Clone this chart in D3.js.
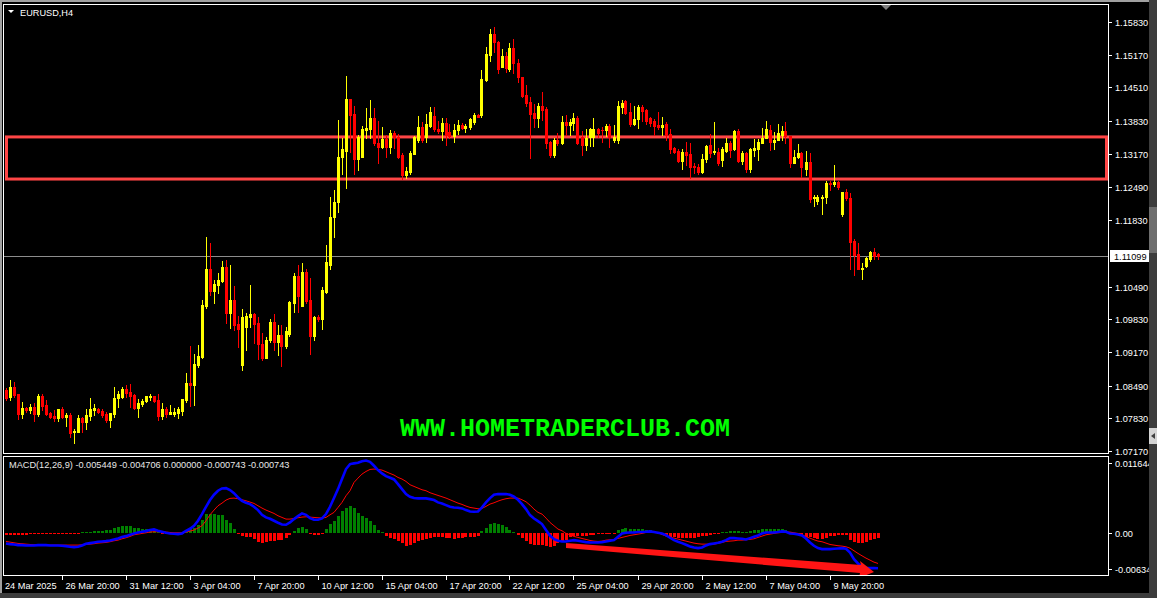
<!DOCTYPE html>
<html><head><meta charset="utf-8">
<script src="https://cdn.jsdelivr.net/npm/d3@7"></script>
<style>body{margin:0;background:#000;overflow:hidden}svg{display:block}</style>
</head><body><svg id="c" width="1157" height="598"></svg>
<script>
const openP=[1.0840,1.0825,1.0846,1.0832,1.0792,1.0804,1.0800,1.0806,1.0792,1.0828,
1.0810,1.0794,1.0788,1.0784,1.0802,1.0786,1.0790,1.0755,1.0755,1.0783,
1.0775,1.0788,1.0800,1.0802,1.0798,1.0792,1.0780,1.0792,1.0823,1.0827,
1.0843,1.0837,1.0831,1.0803,1.0812,1.0818,1.0827,1.0828,1.0820,1.0788,
1.0802,1.0792,1.0792,1.0794,1.0798,1.0820,1.0855,1.0850,1.0891,1.0907,
1.1010,1.1084,1.1039,1.1052,1.1061,1.1089,1.0996,1.1022,1.0973,1.0891,
1.0968,1.0987,1.0993,1.0975,1.0934,1.0905,1.0941,1.0978,1.0938,1.0951,
1.0929,1.0953,1.1016,1.1070,1.1010,1.1079,1.1022,1.0949,1.0988,1.0983,
1.1037,1.1093,1.1190,1.1220,1.1311,1.1323,1.1427,1.1397,1.1306,1.1311,
1.1365,1.1368,1.1389,1.1339,1.1331,1.1346,1.1330,1.1358,1.1350,1.1314,
1.1274,1.1281,1.1316,1.1345,1.1372,1.1351,1.1373,1.1393,1.1368,1.1362,
1.1380,1.1360,1.1353,1.1365,1.1375,1.1369,1.1372,1.1382,1.1395,1.1395,
1.1466,1.1516,1.1559,1.1543,1.1493,1.1514,1.1489,1.1530,1.1500,1.1471,
1.1436,1.1422,1.1400,1.1389,1.1413,1.1407,1.1341,1.1314,1.1345,1.1339,
1.1382,1.1375,1.1380,1.1390,1.1351,1.1335,1.1351,1.1351,1.1368,1.1365,
1.1364,1.1373,1.1345,1.1345,1.1412,1.1424,1.1402,1.1377,1.1387,1.1411,
1.1405,1.1389,1.1384,1.1375,1.1372,1.1378,1.1357,1.1328,1.1323,1.1303,
1.1321,1.1316,1.1292,1.1290,1.1281,1.1306,1.1335,1.1320,1.1321,1.1304,
1.1323,1.1339,1.1326,1.1362,1.1303,1.1318,1.1286,1.1325,1.1326,1.1339,
1.1348,1.1365,1.1341,1.1344,1.1355,1.1362,1.1352,1.1299,1.1310,1.1319,
1.1286,1.1301,1.1227,1.1222,1.1227,1.1229,1.1259,1.1256,1.1261,1.1195,
1.1240,1.1228,1.1140,1.1115,1.1085,1.1090,1.1105,1.1119,1.1115];
const highP=[1.0844,1.0861,1.0856,1.0833,1.0815,1.0806,1.0811,1.0813,1.0832,1.0832,
1.0819,1.0796,1.0800,1.0802,1.0805,1.0794,1.0793,1.0761,1.0790,1.0786,
1.0801,1.0823,1.0812,1.0804,1.0801,1.0796,1.0794,1.0847,1.0839,1.0847,
1.0850,1.0852,1.0833,1.0821,1.0822,1.0829,1.0832,1.0829,1.0832,1.0813,
1.0805,1.0810,1.0803,1.0805,1.0822,1.0875,1.0928,1.0913,1.0931,1.1022,
1.1150,1.1136,1.1062,1.1076,1.1101,1.1103,1.1092,1.1050,1.0989,1.1003,
1.0995,1.1052,1.0995,1.0988,1.0955,1.0948,1.0983,1.0993,1.0971,1.0971,
1.0968,1.1020,1.1076,1.1092,1.1097,1.1084,1.1066,1.0990,1.0991,1.1049,
1.1133,1.1230,1.1243,1.1385,1.1348,1.1474,1.1427,1.1413,1.1355,1.1373,
1.1409,1.1425,1.1409,1.1383,1.1372,1.1355,1.1365,1.1362,1.1357,1.1318,
1.1291,1.1323,1.1353,1.1393,1.1382,1.1398,1.1412,1.1412,1.1383,1.1389,
1.1389,1.1378,1.1377,1.1386,1.1379,1.1378,1.1389,1.1399,1.1397,1.1487,
1.1532,1.1568,1.1573,1.1545,1.1528,1.1523,1.1541,1.1548,1.1508,1.1471,
1.1456,1.1432,1.1417,1.1419,1.1442,1.1412,1.1343,1.1348,1.1358,1.1393,
1.1395,1.1388,1.1399,1.1393,1.1362,1.1368,1.1370,1.1389,1.1370,1.1372,
1.1378,1.1378,1.1375,1.1424,1.1426,1.1426,1.1420,1.1413,1.1415,1.1415,
1.1407,1.1392,1.1387,1.1402,1.1391,1.1382,1.1366,1.1330,1.1326,1.1326,
1.1341,1.1338,1.1299,1.1296,1.1317,1.1335,1.1357,1.1382,1.1328,1.1330,
1.1348,1.1343,1.1365,1.1366,1.1323,1.1321,1.1328,1.1346,1.1346,1.1370,
1.1384,1.1375,1.1360,1.1378,1.1373,1.1382,1.1352,1.1325,1.1337,1.1321,
1.1323,1.1319,1.1234,1.1234,1.1234,1.1263,1.1263,1.1294,1.1263,1.1240,
1.1245,1.1238,1.1144,1.1136,1.1097,1.1109,1.1121,1.1126,1.1117];
const lowP=[1.0819,1.0819,1.0825,1.0782,1.0784,1.0796,1.0793,1.0778,1.0788,1.0800,
1.0789,1.0784,1.0778,1.0778,1.0783,1.0768,1.0746,1.0734,1.0755,1.0755,
1.0761,1.0780,1.0789,1.0793,1.0786,1.0775,1.0766,1.0786,1.0806,1.0823,
1.0827,1.0806,1.0801,1.0785,1.0808,1.0816,1.0819,1.0815,1.0780,1.0781,
1.0786,1.0791,1.0788,1.0783,1.0790,1.0816,1.0807,1.0810,1.0887,1.0904,
1.1005,1.1032,1.1016,1.1035,1.1059,1.0976,1.0965,1.0961,1.0926,1.0880,
1.0920,1.0968,1.0936,1.0902,1.0901,1.0904,1.0938,1.0921,1.0911,1.0889,
1.0924,1.0949,1.0998,1.0998,1.1010,1.1015,1.0913,1.0942,1.0980,1.0963,
1.1035,1.1085,1.1150,1.1200,1.1277,1.1247,1.1321,1.1277,1.1284,1.1311,
1.1348,1.1348,1.1335,1.1298,1.1328,1.1311,1.1318,1.1328,1.1308,1.1267,
1.1269,1.1277,1.1316,1.1341,1.1341,1.1341,1.1371,1.1362,1.1358,1.1345,
1.1335,1.1348,1.1341,1.1357,1.1366,1.1361,1.1368,1.1378,1.1391,1.1392,
1.1463,1.1505,1.1523,1.1481,1.1493,1.1483,1.1485,1.1481,1.1462,1.1431,
1.1413,1.1308,1.1372,1.1372,1.1385,1.1328,1.1311,1.1311,1.1335,1.1337,
1.1355,1.1355,1.1365,1.1337,1.1314,1.1325,1.1332,1.1332,1.1351,1.1340,
1.1353,1.1331,1.1341,1.1338,1.1400,1.1397,1.1373,1.1375,1.1370,1.1384,
1.1377,1.1373,1.1355,1.1366,1.1355,1.1345,1.1318,1.1319,1.1301,1.1287,
1.1294,1.1268,1.1279,1.1276,1.1279,1.1301,1.1311,1.1317,1.1294,1.1292,
1.1321,1.1311,1.1325,1.1301,1.1296,1.1280,1.1281,1.1313,1.1304,1.1338,
1.1348,1.1325,1.1326,1.1344,1.1345,1.1338,1.1291,1.1298,1.1308,1.1271,
1.1274,1.1220,1.1212,1.1216,1.1195,1.1218,1.1243,1.1251,1.1245,1.1191,
1.1223,1.1084,1.1072,1.1085,1.1065,1.1088,1.1101,1.1104,1.1104];
const closeP=[1.0823,1.0847,1.0830,1.0792,1.0803,1.0800,1.0806,1.0792,1.0828,1.0808,
1.0792,1.0786,1.0784,1.0802,1.0786,1.0790,1.0754,1.0757,1.0783,1.0775,
1.0790,1.0801,1.0804,1.0796,1.0790,1.0780,1.0793,1.0824,1.0832,1.0843,
1.0835,1.0828,1.0804,1.0814,1.0818,1.0828,1.0828,1.0818,1.0788,1.0802,
1.0791,1.0795,1.0796,1.0802,1.0822,1.0854,1.0850,1.0893,1.0909,1.1012,
1.1084,1.1039,1.1054,1.1062,1.1089,1.0996,1.1022,1.0971,1.0963,1.0988,
1.0989,1.0993,1.0973,1.0934,1.0904,1.0942,1.0978,1.0938,1.0951,1.0929,
1.0959,1.1018,1.1070,1.1029,1.1079,1.1020,1.0949,1.0987,1.0983,1.1041,
1.1099,1.1190,1.1220,1.1311,1.1326,1.1427,1.1395,1.1306,1.1350,1.1366,
1.1369,1.1389,1.1339,1.1331,1.1346,1.1330,1.1358,1.1350,1.1311,1.1274,
1.1282,1.1318,1.1350,1.1372,1.1345,1.1377,1.1402,1.1366,1.1362,1.1380,
1.1355,1.1353,1.1365,1.1375,1.1369,1.1373,1.1387,1.1395,1.1392,1.1467,
1.1518,1.1559,1.1543,1.1489,1.1514,1.1491,1.1530,1.1500,1.1471,1.1434,
1.1419,1.1397,1.1389,1.1413,1.1405,1.1339,1.1314,1.1345,1.1339,1.1382,
1.1375,1.1382,1.1390,1.1339,1.1335,1.1348,1.1368,1.1368,1.1358,1.1364,
1.1373,1.1351,1.1351,1.1413,1.1420,1.1400,1.1377,1.1387,1.1411,1.1404,
1.1384,1.1380,1.1373,1.1372,1.1375,1.1355,1.1326,1.1321,1.1303,1.1321,
1.1314,1.1290,1.1290,1.1281,1.1306,1.1333,1.1319,1.1322,1.1299,1.1326,
1.1339,1.1325,1.1362,1.1303,1.1318,1.1286,1.1326,1.1329,1.1341,1.1348,
1.1368,1.1341,1.1345,1.1358,1.1362,1.1352,1.1298,1.1311,1.1319,1.1290,
1.1301,1.1225,1.1230,1.1229,1.1230,1.1259,1.1256,1.1261,1.1249,1.1240,
1.1228,1.1138,1.1113,1.1085,1.1087,1.1106,1.1119,1.1111,1.1110];

const macdMain=[-0.00160,-0.00171,-0.00176,-0.00186,-0.00186,-0.00191,-0.00191,-0.00191,-0.00186,-0.00186,
-0.00186,-0.00191,-0.00191,-0.00191,-0.00196,-0.00202,-0.00212,-0.00217,-0.00212,-0.00191,
-0.00165,-0.00155,-0.00145,-0.00134,-0.00129,-0.00124,-0.00114,-0.00098,-0.00083,-0.00062,
-0.00047,-0.00026,-0.00005,0.00010,0.00021,0.00031,0.00047,0.00057,0.00036,0.00021,
0.00005,-0.00005,-0.00010,-0.00016,-0.00005,0.00036,0.00067,0.00114,0.00191,0.00295,
0.00408,0.00512,0.00595,0.00657,0.00693,0.00698,0.00667,0.00620,0.00553,0.00501,
0.00470,0.00450,0.00408,0.00357,0.00284,0.00243,0.00222,0.00191,0.00160,0.00134,
0.00129,0.00165,0.00217,0.00264,0.00305,0.00284,0.00233,0.00207,0.00207,0.00227,
0.00295,0.00408,0.00543,0.00682,0.00838,0.00993,0.01070,0.01081,0.01091,0.01115,
0.01125,0.01105,0.01044,0.00977,0.00925,0.00884,0.00858,0.00832,0.00760,0.00682,
0.00605,0.00564,0.00543,0.00538,0.00538,0.00538,0.00527,0.00512,0.00476,0.00460,
0.00434,0.00408,0.00398,0.00393,0.00383,0.00357,0.00336,0.00331,0.00336,0.00398,
0.00476,0.00543,0.00595,0.00605,0.00605,0.00605,0.00595,0.00564,0.00517,0.00450,
0.00372,0.00279,0.00227,0.00186,0.00140,0.00047,-0.00041,-0.00093,-0.00119,-0.00129,
-0.00129,-0.00119,-0.00109,-0.00119,-0.00129,-0.00140,-0.00145,-0.00145,-0.00145,-0.00140,
-0.00129,-0.00119,-0.00109,-0.00057,-0.00005,0.00005,0.00010,0.00010,0.00016,0.00016,
0.00021,0.00026,0.00016,0.00005,-0.00005,-0.00031,-0.00072,-0.00109,-0.00134,-0.00155,
-0.00181,-0.00207,-0.00222,-0.00233,-0.00222,-0.00191,-0.00171,-0.00160,-0.00150,-0.00134,
-0.00109,-0.00078,-0.00078,-0.00083,-0.00088,-0.00098,-0.00078,-0.00057,-0.00036,-0.00005,
0.00010,0.00010,0.00010,0.00016,0.00026,0.00021,-0.00005,-0.00010,-0.00021,-0.00036,
-0.00083,-0.00145,-0.00196,-0.00233,-0.00248,-0.00248,-0.00248,-0.00243,-0.00238,-0.00233,
-0.00243,-0.00300,-0.00403,-0.00470,-0.00517,-0.00538,-0.00543,-0.00543,-0.005449];
const macdSignal=[-0.00129,-0.00140,-0.00150,-0.00160,-0.00165,-0.00171,-0.00176,-0.00181,-0.00181,-0.00186,
-0.00186,-0.00186,-0.00186,-0.00186,-0.00186,-0.00186,-0.00186,-0.00186,-0.00186,-0.00181,
-0.00176,-0.00171,-0.00165,-0.00155,-0.00150,-0.00145,-0.00134,-0.00119,-0.00109,-0.00088,
-0.00072,-0.00052,-0.00026,-0.00016,-0.00005,0.00005,0.00016,0.00021,0.00021,0.00021,
0.00016,0.00010,0.00005,0.00005,0.00005,0.00016,0.00031,0.00047,0.00078,0.00114,
0.00191,0.00284,0.00357,0.00424,0.00465,0.00512,0.00538,0.00543,0.00533,0.00517,
0.00501,0.00481,0.00460,0.00424,0.00388,0.00357,0.00331,0.00305,0.00269,0.00243,
0.00217,0.00217,0.00227,0.00238,0.00248,0.00253,0.00248,0.00243,0.00238,0.00233,
0.00243,0.00284,0.00321,0.00398,0.00476,0.00579,0.00657,0.00786,0.00853,0.00915,
0.00956,0.00987,0.00993,0.00987,0.00977,0.00951,0.00925,0.00900,0.00863,0.00838,
0.00801,0.00750,0.00724,0.00698,0.00672,0.00657,0.00626,0.00605,0.00584,0.00564,
0.00543,0.00517,0.00491,0.00465,0.00445,0.00419,0.00398,0.00388,0.00377,0.00383,
0.00414,0.00450,0.00470,0.00496,0.00517,0.00533,0.00543,0.00543,0.00543,0.00517,
0.00486,0.00434,0.00372,0.00321,0.00295,0.00233,0.00165,0.00114,0.00062,0.00036,
-0.00005,-0.00026,-0.00052,-0.00067,-0.00083,-0.00098,-0.00114,-0.00124,-0.00129,-0.00124,
-0.00109,-0.00103,-0.00098,-0.00083,-0.00067,-0.00052,-0.00036,-0.00026,-0.00016,-0.00005,
0.00010,0.00010,0.00010,0.00005,-0.00021,-0.00047,-0.00062,-0.00078,-0.00093,-0.00109,
-0.00124,-0.00140,-0.00155,-0.00165,-0.00171,-0.00171,-0.00171,-0.00171,-0.00160,-0.00145,
-0.00129,-0.00124,-0.00119,-0.00109,-0.00109,-0.00103,-0.00098,-0.00088,-0.00067,-0.00047,
-0.00026,-0.00016,-0.00005,0.00005,0.00010,0.00016,0.00016,0.00005,-0.00005,-0.00021,
-0.00057,-0.00078,-0.00103,-0.00124,-0.00134,-0.00155,-0.00176,-0.00186,-0.00196,-0.00202,
-0.00212,-0.00233,-0.00274,-0.00315,-0.00352,-0.00388,-0.00419,-0.00450,-0.004706];
const macdHist=[-0.00031,-0.00031,-0.00031,-0.00031,-0.00031,-0.00026,-0.00021,-0.00016,-0.00010,-0.00005,
-0.00005,-0.00005,-0.00005,-0.00005,-0.00005,-0.00005,-0.00010,-0.00010,-0.00005,0.00005,
0.00016,0.00021,0.00026,0.00031,0.00036,0.00041,0.00052,0.00072,0.00088,0.00103,
0.00114,0.00103,0.00083,0.00072,0.00067,0.00062,0.00057,0.00047,0.00016,-0.00005,
-0.00010,-0.00016,-0.00016,-0.00016,-0.00010,0.00036,0.00062,0.00078,0.00129,0.00207,
0.00295,0.00295,0.00295,0.00284,0.00279,0.00207,0.00155,0.00062,-0.00016,-0.00041,
-0.00057,-0.00062,-0.00093,-0.00134,-0.00155,-0.00145,-0.00129,-0.00119,-0.00114,-0.00103,
-0.00078,-0.00026,0.00031,0.00072,0.00088,0.00062,-0.00016,-0.00031,-0.00031,-0.00021,
0.00062,0.00140,0.00191,0.00269,0.00336,0.00388,0.00424,0.00388,0.00310,0.00269,
0.00233,0.00191,0.00124,0.00052,0.00010,-0.00052,-0.00078,-0.00093,-0.00129,-0.00155,
-0.00196,-0.00186,-0.00155,-0.00129,-0.00103,-0.00093,-0.00072,-0.00067,-0.00067,-0.00067,
-0.00072,-0.00078,-0.00093,-0.00083,-0.00072,-0.00067,-0.00062,-0.00057,-0.00041,0.00026,
0.00078,0.00140,0.00150,0.00140,0.00124,0.00098,0.00047,0.00010,-0.00026,-0.00078,
-0.00129,-0.00165,-0.00181,-0.00181,-0.00191,-0.00207,-0.00222,-0.00196,-0.00155,-0.00134,
-0.00114,-0.00057,-0.00052,-0.00047,-0.00047,-0.00041,-0.00031,-0.00026,-0.00021,-0.00016,
-0.00010,-0.00005,-0.00005,0.00047,0.00067,0.00078,0.00067,0.00057,0.00062,0.00062,
0.00052,0.00047,0.00026,-0.00016,-0.00031,-0.00041,-0.00057,-0.00062,-0.00072,-0.00078,
-0.00078,-0.00078,-0.00072,-0.00062,-0.00052,-0.00041,-0.00031,-0.00021,-0.00016,0.00005,
0.00016,0.00026,0.00036,0.00031,0.00021,0.00016,0.00026,0.00041,0.00052,0.00062,
0.00062,0.00067,0.00062,0.00067,0.00067,0.00052,0.00010,-0.00016,-0.00031,-0.00041,
-0.00057,-0.00067,-0.00078,-0.00088,-0.00093,-0.00078,-0.00052,-0.00041,-0.00036,-0.00031,
-0.00031,-0.00103,-0.00145,-0.00160,-0.00155,-0.00140,-0.00103,-0.00088,-0.000743];

const timeLabels=["26 Mar 20:00","31 Mar 12:00","3 Apr 04:00","7 Apr 20:00","10 Apr 12:00","15 Apr 04:00","17 Apr 20:00","22 Apr 12:00","25 Apr 04:00","29 Apr 20:00","2 May 12:00","7 May 04:00","9 May 20:00"];
const timeLabelIdx=[14,30,46,62,78,94,110,126,142,158,174,190,206];
const firstLabel="24 Mar 2025";
const priceTicks=[1.15830,1.15170,1.14510,1.13830,1.13170,1.12490,1.11830,1.10490,1.09830,1.09170,1.08490,1.07830,1.07170];
const priceRange=[1.07170,1.15830];
const macdRange=[-0.00634,0.011644];
const macdTickLabels=["0.011644","0.00","-0.00634"];
const currentPrice=1.11099;
const zone=[1.1266,1.1351];
const symbol="EURUSD,H4";
const macdTitle="MACD(12,26,9) -0.005449 -0.004706 0.000000 -0.000743 -0.000743";
const watermark="WWW.HOMETRADERCLUB.COM";

const svg=d3.select('#c');
const n=closeP.length;
const FONT='"Liberation Sans", Arial, sans-serif';
const FS=9.2;
const x=d3.scaleLinear().domain([0,n-1]).range([5.5,5.5+4*(n-1)]);
const y=d3.scaleLinear().domain(priceRange).range([451,22]);
const ym=d3.scaleLinear().domain(macdRange).range([574,458]);
const cx=i=>Math.round(x(i));

svg.append('rect').attr('width',1157).attr('height',598).attr('fill','#000');
const defs=svg.append('defs');
defs.append('clipPath').attr('id','cm').append('rect').attr('x',4).attr('y',5).attr('width',1104).attr('height',448);
defs.append('clipPath').attr('id','cd').append('rect').attr('x',4).attr('y',457).attr('width',1104).attr('height',118);

svg.append('rect').attr('x',0).attr('y',0).attr('width',1157).attr('height',2).attr('fill','#a0a0a0');
svg.append('rect').attr('x',0).attr('y',0).attr('width',2).attr('height',598).attr('fill','#a0a0a0');

const frame=svg.append('g').attr('fill','none').attr('stroke','#fff').attr('stroke-width',1).attr('shape-rendering','crispEdges');
frame.append('rect').attr('x',3.5).attr('y',4.5).attr('width',1105).attr('height',449);
frame.append('rect').attr('x',3.5).attr('y',456.5).attr('width',1105).attr('height',119);

const gm=svg.append('g').attr('clip-path','url(#cm)');
gm.append('text').attr('x',565).attr('y',436).attr('text-anchor','middle')
  .attr('font-family','"Liberation Mono", "DejaVu Sans Mono", monospace').attr('font-weight','bold')
  .attr('font-size',25).attr('fill','#00ff00').text(watermark);
gm.append('rect').attr('x',6.5).attr('y',y(zone[1])).attr('width',1100).attr('height',y(zone[0])-y(zone[1]))
  .attr('fill','none').attr('stroke','#ff4646').attr('stroke-width',3);
const yc=Math.round(y(currentPrice))+0.5;
gm.append('line').attr('x1',4).attr('x2',1108).attr('y1',yc).attr('y2',yc).attr('stroke','#8c8c8c').attr('stroke-width',1);

const candles=d3.range(n).map(i=>({i,o:openP[i],h:highP[i],l:lowP[i],c:closeP[i]}));
const cg=gm.append('g').attr('shape-rendering','crispEdges');
const col=d=>d.c>=d.o?'#ffff00':'#ff0000';
cg.selectAll('rect.w').data(candles).join('rect').attr('class','w')
  .attr('x',d=>cx(d.i)).attr('width',1)
  .attr('y',d=>Math.round(y(d.h))).attr('height',d=>Math.max(1,Math.round(y(d.l))-Math.round(y(d.h))+1))
  .attr('fill',col);
cg.selectAll('rect.b').data(candles).join('rect').attr('class','b')
  .attr('x',d=>cx(d.i)-1).attr('width',3)
  .attr('y',d=>Math.round(y(Math.max(d.o,d.c))))
  .attr('height',d=>Math.max(1,Math.round(y(Math.min(d.o,d.c)))-Math.round(y(Math.max(d.o,d.c)))+1))
  .attr('fill',col);

svg.append('path').attr('d','M8,10 L14,10 L11,13 Z').attr('fill','#fff');
svg.append('text').attr('x',20).attr('y',16).attr('font-family',FONT).attr('font-size',FS).attr('fill','#fff').text(symbol);
svg.append('path').attr('d','M881,5 L891,5 L886,10 Z').attr('fill','#808080');

const gd=svg.append('g').attr('clip-path','url(#cd)');
const hist=d3.range(n).map(i=>({i,v:macdHist[i]}));
const y0=Math.round(ym(0));
gd.append('g').attr('shape-rendering','crispEdges').selectAll('rect').data(hist).join('rect')
  .attr('x',d=>cx(d.i)-1).attr('width',3)
  .attr('y',d=>d.v>=0?Math.min(y0-1,Math.round(ym(d.v))):y0)
  .attr('height',d=>Math.max(1,Math.abs(Math.round(ym(d.v))-y0)))
  .attr('fill',d=>d.v>=0?'#008000':'#ff0000');
const line=d3.line().x((d,i)=>x(i)+0.5).y(d=>ym(d));
gd.append('path').datum(macdSignal).attr('d',line).attr('fill','none').attr('stroke','#ff0000').attr('stroke-width',1);
gd.append('path').datum(macdMain).attr('d',line).attr('fill','none').attr('stroke','#0000ff').attr('stroke-width',2.6);
gd.append('path').attr('d','M566,543 L861,565 L860,561 L874,572 L859,578 L860,573 L566,548 Z').attr('fill','#ff1414');
svg.append('text').attr('x',9).attr('y',468).attr('font-family',FONT).attr('font-size',FS).attr('fill','#e8e8e8').text(macdTitle);

const ax=svg.append('g').attr('font-family',FONT).attr('font-size',FS).attr('fill','#fff');
priceTicks.forEach(p=>{
  const yy=Math.round(y(p))+0.5;
  ax.append('line').attr('x1',1108).attr('x2',1112).attr('y1',yy).attr('y2',yy).attr('stroke','#fff');
  ax.append('text').attr('x',1115).attr('y',yy+3.3).text(p.toFixed(5));
});
svg.append('rect').attr('x',1110).attr('y',yc-6.5).attr('width',40).attr('height',12).attr('fill','#fff');
svg.append('text').attr('x',1114).attr('y',yc+3.3).attr('font-family',FONT).attr('font-size',FS).attr('fill','#000').text(currentPrice.toFixed(5));
const mPos=[ym(macdRange[1])+5,ym(0),ym(macdRange[0])-5];
macdTickLabels.forEach((t,k)=>{
  const yy=Math.round(mPos[k])+0.5;
  ax.append('line').attr('x1',1108).attr('x2',1112).attr('y1',yy).attr('y2',yy).attr('stroke','#fff');
  ax.append('text').attr('x',1115).attr('y',yy+3.3).text(t);
});

const bx=svg.append('g').attr('font-family',FONT).attr('font-size',FS).attr('fill','#fff');
bx.append('text').attr('x',5).attr('y',589).text(firstLabel);
timeLabelIdx.forEach((idx,k)=>{
  const xx=cx(idx)+0.5;
  bx.append('line').attr('x1',xx).attr('x2',xx).attr('y1',576).attr('y2',580).attr('stroke','#fff');
  bx.append('text').attr('x',xx+3).attr('y',589).text(timeLabels[k]);
});

svg.append('rect').attr('x',1149).attr('y',0).attr('width',8).attr('height',598).attr('fill','#3c3c3c');
svg.append('rect').attr('x',1149).attr('y',207).attr('width',8).attr('height',46).attr('fill','#6e6e6e');
svg.append('rect').attr('x',1149).attr('y',428).attr('width',8).attr('height',16).attr('fill','#d4d4d4');
svg.append('path').attr('d','M1151,436 L1155,433 L1155,439 Z').attr('fill','#404040');
svg.append('rect').attr('x',0).attr('y',593).attr('width',1157).attr('height',5).attr('fill','#3c3c3c');
</script></body></html>
